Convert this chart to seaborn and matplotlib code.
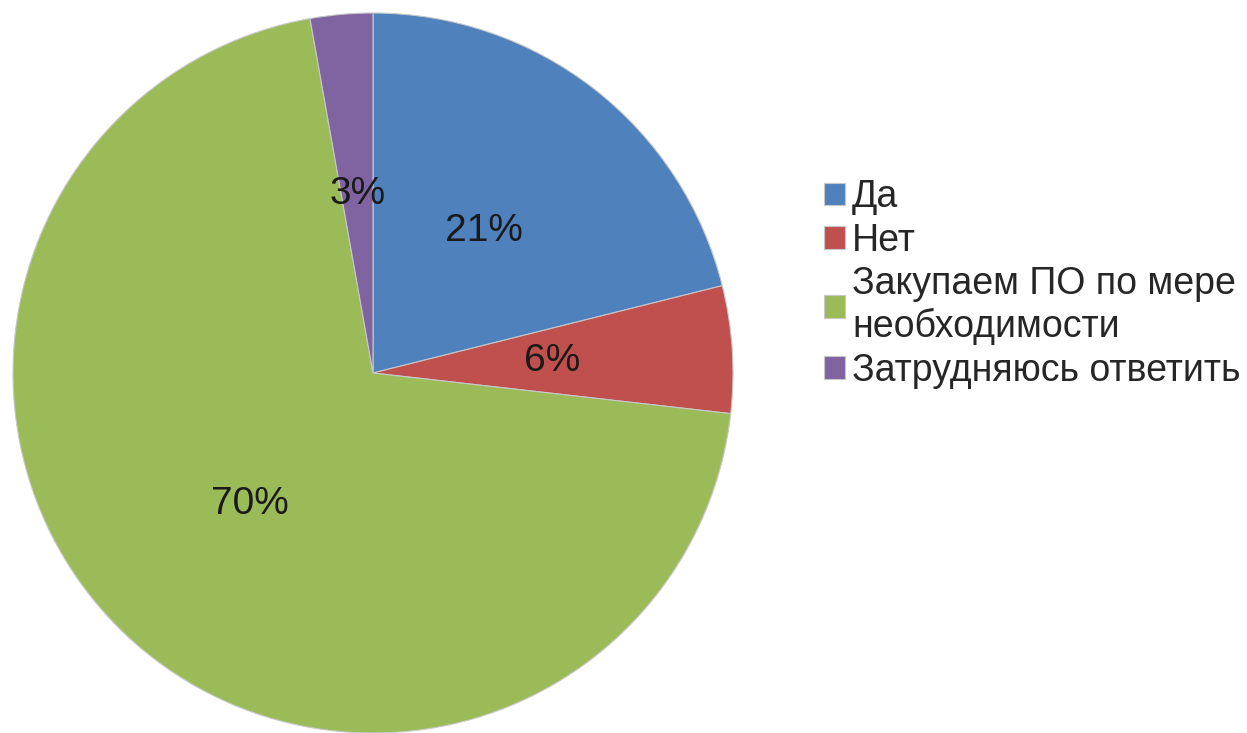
import matplotlib
matplotlib.use('Agg')
import matplotlib.pyplot as plt
import seaborn as sns

# Данные опроса
labels = ['Да', 'Нет', 'Закупаем ПО по мере\nнеобходимости', 'Затрудняюсь ответить']
values = [21.1, 5.7, 70.4, 2.8]
colors = ['#4F81BD', '#C0504D', '#9BBB59', '#8064A2']

sns.set_theme(style='white')
plt.rcParams['font.family'] = ['Liberation Sans', 'DejaVu Sans']

fig = plt.figure(figsize=(12.47, 7.33), dpi=100)
ax = fig.add_axes([13 / 1247, 0, 720 / 1247, 720 / 733])

wedges, texts, autotexts = ax.pie(values, colors=colors, startangle=90, counterclock=False,
                                  autopct='%.0f%%', pctdistance=0.5,
                                  wedgeprops=dict(edgecolor='#c8c8c8', linewidth=0.8),
                                  textprops=dict(fontsize=28, color='#1a1a1a'))
ax.set_xlim(-1, 1)
ax.set_ylim(-1, 1)
ax.set_aspect('equal')
ax.axis('off')

fig.legend(wedges, labels, loc='center left', bbox_to_anchor=(824 / 1247, 1 - 284 / 733),
           frameon=False, fontsize=27, handlelength=0.55, handleheight=0.55,
           handletextpad=0.2, labelspacing=0.2, borderaxespad=0, borderpad=0)

plt.savefig('out.png', dpi=100)
